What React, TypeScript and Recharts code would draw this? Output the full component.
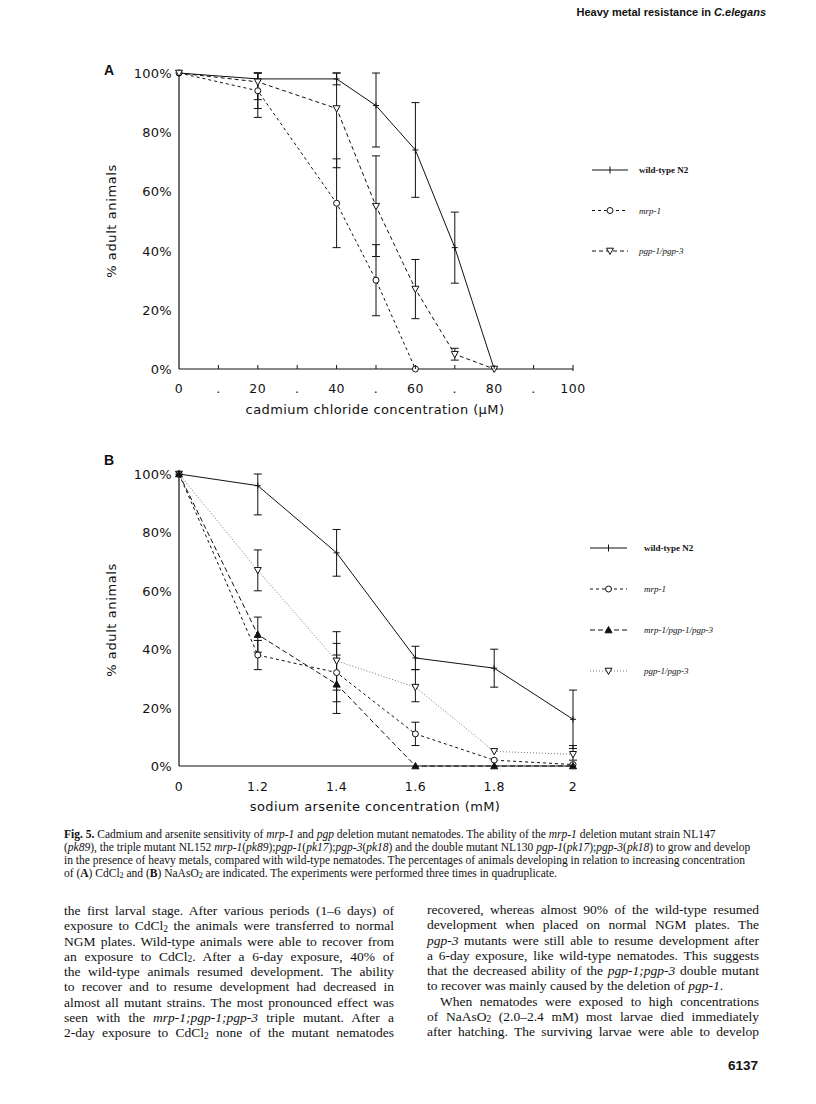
import React from 'react'
import { LineChart, Line, XAxis, YAxis, ErrorBar, Legend } from 'recharts'

// Panel A: cadmium chloride concentration (µM), % adult animals
const cdConc = [0, 20, 40, 50, 60, 70, 80]
const cdWildType = [100, 98, 98, 89, 74, 41, 0]
const cdWildTypeRange = [null, [91, 100], [96, 100], [75, 100], [58, 90], [29, 53], null]
const cdMrp1 = [100, 94, 56, 30, 0, null, null]
const cdMrp1Range = [null, [85, 100], [41, 71], [18, 42], null, null, null]
const cdPgp = [100, 97, 88, 55, 27, 5, 0]
const cdPgpRange = [null, [88, 100], [68, 100], [38, 72], [17, 37], [3, 7], null]
const cdTicks = [0, 10, 20, 30, 40, 50, 60, 70, 80, 90, 100]

// Panel B: sodium arsenite concentration (mM)
const asConc = ['0', '1.2', '1.4', '1.6', '1.8', '2']
const asWildType = [100, 96, 73, 37, 33.5, 16]
const asWildTypeRange = [null, [86, 100], [65, 81], [33, 41], [27, 40], [6, 26]]
const asMrp1 = [100, 38, 32, 11, 2, 0.5]
const asMrp1Range = [null, [33, 43], [22, 42], [7, 15], null, null]
const asTriple = [100, 45, 28, 0, 0, 0]
const asTripleRange = [null, [39, 51], [18, 38], null, null, null]
const asPgp = [100, 67, 36, 27, 5, 4]
const asPgpRange = [null, [60, 74], [26, 46], [22, 33], null, [2, 7]]

const pctTicks = [0, 20, 40, 60, 80, 100]

const toErr = (v: number | null, r: number[] | null) =>
  v != null && r ? [v - r[0], r[1] - v] : null

const cdRows = cdConc.map((c, i) => ({
  conc: c,
  wt: cdWildType[i], wtErr: toErr(cdWildType[i], cdWildTypeRange[i]),
  mrp: cdMrp1[i], mrpErr: toErr(cdMrp1[i], cdMrp1Range[i]),
  pgp: cdPgp[i], pgpErr: toErr(cdPgp[i], cdPgpRange[i]),
}))

const asRows = asConc.map((c, i) => ({
  conc: c,
  wt: asWildType[i], wtErr: toErr(asWildType[i], asWildTypeRange[i]),
  mrp: asMrp1[i], mrpErr: toErr(asMrp1[i], asMrp1Range[i]),
  tri: asTriple[i], triErr: toErr(asTriple[i], asTripleRange[i]),
  pgp: asPgp[i], pgpErr: toErr(asPgp[i], asPgpRange[i]),
}))

const INK = '#111'
const AXIS_FONT = '"DejaVu Sans", Arial, sans-serif'
const SERIF = '"Liberation Serif", "Times New Roman", serif'
const SANS = '"Liberation Sans", Arial, sans-serif'

// markers
const Plus = ({ cx, cy, s = 3 }: any) => (
  <g>
    <line x1={cx - s} x2={cx + s} y1={cy} y2={cy} stroke={INK} strokeWidth={1} />
    <line x1={cx} x2={cx} y1={cy - s} y2={cy + s} stroke={INK} strokeWidth={1} />
  </g>
)
const Ring = ({ cx, cy, r = 3 }: any) => <circle cx={cx} cy={cy} r={r} fill="#fff" stroke={INK} strokeWidth={1} />
const TriDown = ({ cx, cy, s = 3.5 }: any) => (
  <path d={`M${cx - s},${cy - s * 0.8} L${cx + s},${cy - s * 0.8} L${cx},${cy + s} Z`} fill="#fff" stroke={INK} strokeWidth={1} />
)
const TriUp = ({ cx, cy, s = 3.5 }: any) => (
  <path d={`M${cx - s},${cy + s * 0.8} L${cx + s},${cy + s * 0.8} L${cx},${cy - s} Z`} fill={INK} stroke={INK} strokeWidth={1} />
)

const dotOf = (Shape: any) => (p: any) => {
  if (p.cx == null || p.cy == null || p.value == null) return <g key={p.key} />
  return <Shape key={p.key} cx={p.cx} cy={p.cy} />
}

const PctTick = ({ x, y, payload }: any) => (
  <text x={x - 7} y={y + 5} textAnchor="end" fontSize={13} fontFamily={AXIS_FONT} fill={INK} letterSpacing={0.3}>
    {payload.value}%
  </text>
)

const CdTick = ({ x, y, payload }: any) => {
  const v = payload.value
  return (
    <g>
      {v > 0 && <line x1={x} x2={x} y1={y} y2={y - 4} stroke={INK} strokeWidth={1} />}
      {v === 100 && <line x1={x} x2={x} y1={y} y2={y + 2} stroke={INK} strokeWidth={1} />}
      <text x={x} y={y + 24} textAnchor="middle" fontSize={12.5} fontFamily={AXIS_FONT} fill={INK} letterSpacing={0.5}>
        {v % 20 === 0 ? v : '.'}
      </text>
    </g>
  )
}

const AsTick = ({ x, y, payload }: any) => (
  <text x={x} y={y + 25} textAnchor="middle" fontSize={12.5} fontFamily={AXIS_FONT} fill={INK} letterSpacing={0.5}>
    {payload.value}
  </text>
)

const YTitle = ({ viewBox }: any) => {
  const cx = viewBox.x + 11
  const cy = viewBox.y + viewBox.height / 2
  return (
    <text x={cx} y={cy} transform={`rotate(-90 ${cx} ${cy})`} textAnchor="middle" dominantBaseline="central"
      fontSize={13} fontFamily={AXIS_FONT} fill={INK} letterSpacing={0.6}>
      % adult animals
    </text>
  )
}

const XTitle = ({ viewBox, text }: any) => (
  <text x={viewBox.x + viewBox.width / 2 - 1} y={viewBox.y + 45} textAnchor="middle"
    fontSize={13} fontFamily={AXIS_FONT} fill={INK} letterSpacing={0.4}>
    {text}
  </text>
)

interface LegendItem { label: string; italic: boolean; dash?: string; stroke?: string; marker: any }

const cdLegend: LegendItem[] = [
  { label: 'wild-type N2', italic: false, marker: Plus },
  { label: 'mrp-1', italic: true, dash: '3 3', marker: Ring },
  { label: 'pgp-1/pgp-3', italic: true, dash: '4 3', marker: TriDown },
]
const asLegend: LegendItem[] = [
  { label: 'wild-type N2', italic: false, marker: Plus },
  { label: 'mrp-1', italic: true, dash: '3 3', marker: Ring },
  { label: 'mrp-1/pgp-1/pgp-3', italic: true, dash: '5 3', marker: TriUp },
  { label: 'pgp-1/pgp-3', italic: true, dash: '1 2', stroke: '#777', marker: TriDown },
]

const LegendBlock = ({ items, x0, x1, tx, gap }: any) => (
  <svg width={230} height={items.length * gap + 10} style={{ display: 'block' }}>
    {items.map((it: LegendItem, i: number) => {
      const y = 10 + i * gap
      const M = it.marker
      return (
        <g key={it.label}>
          <line x1={x0} x2={x1} y1={y} y2={y} stroke={it.stroke || INK} strokeWidth={1} strokeDasharray={it.dash} />
          {it.label === 'wild-type N2'
            ? <line x1={(x0 + x1) / 2} x2={(x0 + x1) / 2} y1={y - 3.5} y2={y + 3.5} stroke={INK} />
            : <M cx={(x0 + x1) / 2} cy={y} />}
          <text x={tx} y={y + 3} fontSize={9} fontFamily={SERIF} fontStyle={it.italic ? 'italic' : 'normal'}
            fontWeight={it.italic ? 'normal' : 'bold'} fill={INK}>{it.label}</text>
        </g>
      )
    })}
  </svg>
)

const errProps = { stroke: INK, strokeWidth: 1, width: 4, direction: 'y' as const }

function CadmiumChart() {
  return (
    <LineChart width={700} height={370} data={cdRows} margin={{ top: 18, right: 227, left: 0, bottom: 0 }}>
      <XAxis dataKey="conc" type="number" domain={[0, 100]} ticks={cdTicks} interval={0}
        stroke={INK} strokeWidth={1.2} tickLine={false} tickSize={0} tickMargin={0} height={56}
        tick={<CdTick />} label={<XTitle text="cadmium chloride concentration (µM)" />} />
      <YAxis domain={[0, 100]} ticks={pctTicks} interval={0} width={79}
        stroke={INK} strokeWidth={1.2} tickLine={false} tickSize={0} tickMargin={0}
        tick={<PctTick />} label={<YTitle />} />
      <Legend layout="horizontal" verticalAlign="middle" align="center"
        wrapperStyle={{ left: 488, top: 105, width: 230 }}
        content={() => <LegendBlock items={cdLegend} x0={4} x1={40} tx={51} gap={40.5} />} />
      <Line dataKey="wt" stroke={INK} strokeWidth={1} dot={dotOf(Plus)} isAnimationActive={false} legendType="none">
        <ErrorBar dataKey="wtErr" {...errProps} />
      </Line>
      <Line dataKey="mrp" stroke={INK} strokeWidth={1} strokeDasharray="3 3" dot={dotOf(Ring)} isAnimationActive={false} legendType="none">
        <ErrorBar dataKey="mrpErr" {...errProps} />
      </Line>
      <Line dataKey="pgp" stroke={INK} strokeWidth={1} strokeDasharray="4 3" dot={dotOf(TriDown)} isAnimationActive={false} legendType="none">
        <ErrorBar dataKey="pgpErr" {...errProps} />
      </Line>
    </LineChart>
  )
}

function ArseniteChart() {
  return (
    <LineChart width={700} height={366} data={asRows} margin={{ top: 18, right: 227, left: 0, bottom: 0 }}>
      <XAxis dataKey="conc" type="category" interval={0}
        stroke={INK} strokeWidth={1.2} tickLine={false} tickSize={0} tickMargin={0} height={56}
        tick={<AsTick />} label={<XTitle text="sodium arsenite concentration (mM)" />} />
      <YAxis domain={[0, 100]} ticks={pctTicks} interval={0} width={79}
        stroke={INK} strokeWidth={1.2} tickLine={false} tickSize={0} tickMargin={0}
        tick={<PctTick />} label={<YTitle />} />
      <Legend layout="horizontal" verticalAlign="middle" align="center"
        wrapperStyle={{ left: 486, top: 82, width: 230 }}
        content={() => <LegendBlock items={asLegend} x0={4} x1={41} tx={58} gap={41} />} />
      <Line dataKey="pgp" stroke="#777" strokeWidth={1} strokeDasharray="1 2" dot={dotOf(TriDown)} isAnimationActive={false} legendType="none">
        <ErrorBar dataKey="pgpErr" {...errProps} />
      </Line>
      <Line dataKey="wt" stroke={INK} strokeWidth={1} dot={dotOf(Plus)} isAnimationActive={false} legendType="none">
        <ErrorBar dataKey="wtErr" {...errProps} />
      </Line>
      <Line dataKey="mrp" stroke={INK} strokeWidth={1} strokeDasharray="3 3" dot={dotOf(Ring)} isAnimationActive={false} legendType="none">
        <ErrorBar dataKey="mrpErr" {...errProps} />
      </Line>
      <Line dataKey="tri" stroke={INK} strokeWidth={1} strokeDasharray="5 3" dot={dotOf(TriUp)} isAnimationActive={false} legendType="none">
        <ErrorBar dataKey="triErr" {...errProps} />
      </Line>
    </LineChart>
  )
}

// subscript kept inside the line box so lines do not collide
const sub = (t: string) => (
  <span style={{ fontSize: '0.7em', position: 'relative', top: '0.15em', lineHeight: 0 }}>{t}</span>
)

const justLine = { whiteSpace: 'nowrap' as const, textAlign: 'justify' as const, textAlignLast: 'justify' as const, height: 15.3, lineHeight: '15.3px' }

const leftCol = [
  <>the first larval stage. After various periods (1–6 days) of</>,
  <>exposure to CdCl{sub('2')} the animals were transferred to normal</>,
  <>NGM plates. Wild-type animals were able to recover from</>,
  <>an exposure to CdCl{sub('2')}. After a 6-day exposure, 40% of</>,
  <>the wild-type animals resumed development. The ability</>,
  <>to recover and to resume development had decreased in</>,
  <>almost all mutant strains. The most pronounced effect was</>,
  <>seen with the <i>mrp-1;pgp-1;pgp-3</i> triple mutant. After a</>,
  <>2-day exposure to CdCl{sub('2')} none of the mutant nematodes</>,
]

const rightCol = [
  <>recovered, whereas almost 90% of the wild-type resumed</>,
  <>development when placed on normal NGM plates. The</>,
  <><i>pgp-3</i> mutants were still able to resume development after</>,
  <>a 6-day exposure, like wild-type nematodes. This suggests</>,
  <>that the decreased ability of the <i>pgp-1;pgp-3</i> double mutant</>,
  <>to recover was mainly caused by the deletion of <i>pgp-1</i>.</>,
  <>When nematodes were exposed to high concentrations</>,
  <>of NaAsO{sub('2')} (2.0–2.4 mM) most larvae died immediately</>,
  <>after hatching. The surviving larvae were able to develop</>,
]

export default function App() {
  return (
    <div style={{ position: 'absolute', left: 0, top: 0, width: 816, height: 1104, background: '#fff', color: INK, overflow: 'hidden' }}>
      <div style={{ position: 'absolute', right: 50, top: 6, fontFamily: SANS, fontWeight: 'bold', fontSize: 11 }}>
        Heavy metal resistance in <i>C.elegans</i>
      </div>

      <div style={{ position: 'absolute', left: 104, top: 62, fontFamily: SANS, fontWeight: 'bold', fontSize: 14 }}>A</div>
      <div style={{ position: 'absolute', left: 100, top: 55 }}>
        <CadmiumChart />
      </div>

      <div style={{ position: 'absolute', left: 104, top: 452, fontFamily: SANS, fontWeight: 'bold', fontSize: 14 }}>B</div>
      <div style={{ position: 'absolute', left: 100, top: 456 }}>
        <ArseniteChart />
      </div>

      <div style={{ position: 'absolute', left: 64, top: 828, width: 710, fontFamily: SERIF, fontSize: 11.5, lineHeight: '13px', whiteSpace: 'nowrap' }}>
        <div><b>Fig. 5.</b> Cadmium and arsenite sensitivity of <i>mrp-1</i> and <i>pgp</i> deletion mutant nematodes. The ability of the <i>mrp-1</i> deletion mutant strain NL147</div>
        <div>(<i>pk89</i>), the triple mutant NL152 <i>mrp-1</i>(<i>pk89</i>);<i>pgp-1</i>(<i>pk17</i>);<i>pgp-3</i>(<i>pk18</i>) and the double mutant NL130 <i>pgp-1</i>(<i>pk17</i>);<i>pgp-3</i>(<i>pk18</i>) to grow and develop</div>
        <div>in the presence of heavy metals, compared with wild-type nematodes. The percentages of animals developing in relation to increasing concentration</div>
        <div>of (<b>A</b>) CdCl{sub('2')} and (<b>B</b>) NaAsO{sub('2')} are indicated. The experiments were performed three times in quadruplicate.</div>
      </div>

      <div style={{ position: 'absolute', left: 64, top: 903, width: 330, fontFamily: SERIF, fontSize: 13.5 }}>
        {leftCol.map((l, i) => <div key={i} style={justLine}>{l}</div>)}
      </div>
      <div style={{ position: 'absolute', left: 427, top: 902, width: 332, fontFamily: SERIF, fontSize: 13.5 }}>
        {rightCol.map((l, i) => (
          <div key={i} style={i === 5 ? { ...justLine, textAlign: 'left', textAlignLast: 'left' } : i === 6 ? { ...justLine, paddingLeft: 13 } : justLine}>{l}</div>
        ))}
      </div>

      <div style={{ position: 'absolute', right: 58, top: 1058, fontFamily: SANS, fontWeight: 'bold', fontSize: 13.5 }}>6137</div>
    </div>
  )
}
